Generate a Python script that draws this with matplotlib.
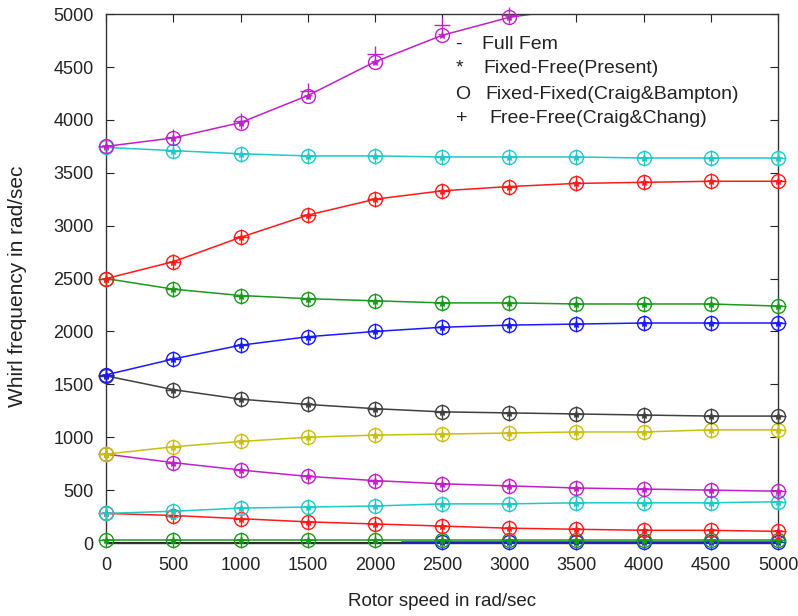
import matplotlib
matplotlib.use("Agg")
import matplotlib.pyplot as plt
import numpy as np

plt.rcParams['font.family'] = ['Liberation Sans', 'DejaVu Sans']

speed = [0, 500, 1000, 1500, 2000, 2500, 3000, 3500, 4000, 4500, 5000]

mode_green_low = [30, 30, 30, 30, 30, 30, 30, 30, 30, 30, 30]
mode_red_low = [280, 260, 230, 200, 180, 160, 140, 130, 120, 120, 110]
mode_cyan_low = [280, 300, 330, 340, 350, 370, 370, 380, 380, 380, 390]
mode_magenta_low = [840, 760, 690, 630, 590, 560, 540, 520, 510, 500, 490]
mode_yellow = [840, 910, 960, 1000, 1020, 1030, 1040, 1050, 1050, 1070, 1070]
mode_gray = [1580, 1450, 1360, 1310, 1270, 1240, 1230, 1220, 1210, 1200, 1200]
mode_blue = [1590, 1740, 1870, 1950, 2000, 2040, 2060, 2070, 2080, 2080, 2080]
mode_green_high = [2500, 2400, 2340, 2310, 2290, 2270, 2270, 2260, 2260, 2260, 2240]
mode_red_high = [2500, 2660, 2890, 3100, 3250, 3330, 3370, 3400, 3410, 3420, 3420]
mode_cyan_high = [3740, 3710, 3680, 3660, 3660, 3650, 3650, 3650, 3640, 3640, 3640]
mode_magenta_high = [3750, 3830, 3975, 4230, 4550, 4800, 4970, 5060, 5130, 5180, 5220]
freefree_magenta_high = [3750, 3840, 3990, 4270, 4620, 4900, 4990, 5080, 5150, 5200, 5240]

speed_blue_zero = [2200, 2500, 3000, 3500, 4000, 4500, 5000]
mode_blue_zero = [8, 8, 8, 8, 8, 8, 8]

series = [
    (mode_green_low, "#1a9a1a"),
    (mode_red_low, "#ff1a1a"),
    (mode_cyan_low, "#20c8c8"),
    (mode_magenta_low, "#c020c8"),
    (mode_yellow, "#c8c010"),
    (mode_gray, "#404040"),
    (mode_blue, "#1a1aff"),
    (mode_green_high, "#1a9a1a"),
    (mode_red_high, "#ff1a1a"),
    (mode_cyan_high, "#20c8c8"),
    (mode_magenta_high, "#c020c8"),
]

YMAX = 5000

fig = plt.figure(figsize=(7.98, 6.16), dpi=100)
ax = fig.add_axes([0.133, 0.1185, 0.842, 0.8585])

def visible(ys):
    return [y if y <= YMAX else np.nan for y in ys]

def draw(xs, ys, c, mevery=None, plus_ys=None):
    ax.plot(xs, ys, color=c, lw=1.1, zorder=2)
    kw = dict(ls="none", zorder=3, markevery=mevery, clip_on=False)
    ax.plot(xs, visible(ys), marker="o", ms=10, mfc="none", mec=c, mew=1.0, **kw)
    ax.plot(xs, visible(ys), marker="*", ms=6, mfc=c, mec=c, mew=0.5, **kw)
    py = plus_ys if plus_ys is not None else ys
    ax.plot(xs, visible(py), marker="+", ms=12, mec=c, mew=1.0, **kw)

ax.plot([0, 5000], [0, 0], color="black", lw=1.2, zorder=2)
draw(speed_blue_zero, mode_blue_zero, "#1a1aff", mevery=list(range(1, len(speed_blue_zero))))
for ys, c in series:
    if ys is mode_magenta_high:
        draw(speed, ys, c, plus_ys=freefree_magenta_high)
    else:
        draw(speed, ys, c)

ax.set_xlim(0, 5000)
ax.set_ylim(0, YMAX)
ax.set_xticks(np.arange(0, 5001, 500))
ax.set_yticks(np.arange(0, 5001, 500))
ax.tick_params(direction="in", length=6, top=True, right=True, labelsize=13, colors="#222222")
ax.tick_params(axis="x", pad=10)
ax.tick_params(axis="y", pad=9)
for s in ax.spines.values():
    s.set_color("#333333")
    s.set_linewidth(1.0)

ax.set_xlabel("Rotor speed in rad/sec", fontsize=13.5, color="#222222")
ax.xaxis.set_label_coords(0.5, -0.095)
ax.set_ylabel("Whirl frequency in rad/sec", fontsize=15, color="#222222")
ax.yaxis.set_label_coords(-0.118, 0.485)

legend_sym = ["-", "*", "O", "+"]
legend_txt = ["Full Fem", "Fixed-Free(Present)", "Fixed-Fixed(Craig&Bampton)", "Free-Free(Craig&Chang)"]
ys_leg = [0.943, 0.898, 0.849, 0.803]
xs_txt = [0.559, 0.561, 0.565, 0.570]
for sym, txt, yy, xt in zip(legend_sym, legend_txt, ys_leg, xs_txt):
    ax.text(0.52, yy, sym, transform=ax.transAxes, fontsize=14, va="center", color="#222222")
    ax.text(xt, yy, txt, transform=ax.transAxes, fontsize=14, va="center", color="#222222")

fig.savefig("out.png", dpi=100)
